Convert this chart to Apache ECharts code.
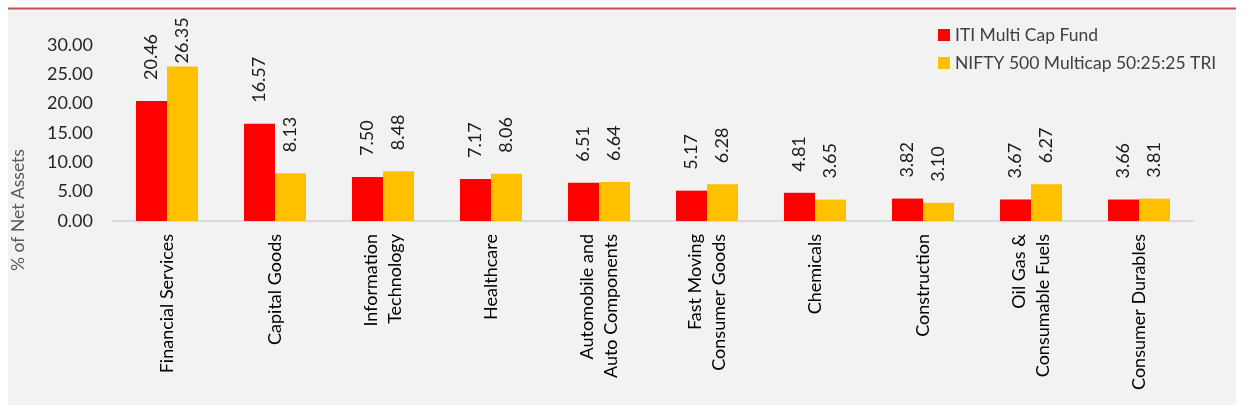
<!DOCTYPE html>
<html>
<head>
<meta charset="utf-8">
<script src="https://cdn.jsdelivr.net/npm/echarts@6/dist/echarts.min.js"></script>
<style>
html,body{margin:0;padding:0;background:#fff;}
#chart{width:1245px;height:413px;}
</style>
</head>
<body>
<div id="chart"></div>
<script>
const categories = ['Financial Services','Capital Goods','Information\nTechnology','Healthcare','Automobile and\nAuto Components','Fast Moving\nConsumer Goods','Chemicals','Construction','Oil Gas &\nConsumable Fuels','Consumer Durables'];
const seriesNames = ['ITI Multi Cap Fund','NIFTY 500 Multicap 50:25:25 TRI'];
const fundValues = [20.46,16.57,7.50,7.17,6.51,5.17,4.81,3.82,3.67,3.66];
const indexValues = [26.35,8.13,8.48,8.06,6.64,6.28,3.65,3.10,6.27,3.81];
const yTicks = {min:0, max:30, interval:5};
const yAxisTitle = '% of Net Assets';

const FONT = 'Lato, "Open Sans", sans-serif';
const chart = echarts.init(document.getElementById('chart'));
const labelCfg = {
  show:true, position:'top', distance:21, rotate:90, align:'left', verticalAlign:'middle',
  fontFamily:FONT, fontSize:18, color:'#1a1a1a',
  formatter: p => Number(p.value).toFixed(2)
};
const yMaxVal = yTicks.max;
function buildData(arr){
  return arr.map(v => {
    if (v > yMaxVal * 0.8) return {value:v, label:{distance:3}};
    return v;
  });
}
chart.setOption({
  backgroundColor:'#ffffff',
  animation:false,
  graphic:[
    {type:'rect', z:-10, silent:true, shape:{x:8,y:8,width:1228,height:397}, style:{fill:'#f2f2f2'}},
    {type:'line', z:-9, silent:true, shape:{x1:8,y1:8.5,x2:1236,y2:8.5}, style:{stroke:'#c0504d',lineWidth:2}},
    {type:'text', silent:true, x:18, y:210, rotation:Math.PI/2,
      style:{text:yAxisTitle, fontFamily:FONT, fontSize:17.5, fill:'#595959', align:'center', verticalAlign:'middle'}}
  ],
  legend:{
    orient:'vertical', left:933, top:20, icon:'rect', itemWidth:12, itemHeight:12, itemGap:8,
    textStyle:{fontFamily:FONT, fontSize:17.5, color:'#404040', lineHeight:20},
    data:seriesNames
  },
  grid:{left:113, right:52, top:45, bottom:192, containLabel:false},
  xAxis:{
    type:'category', data:categories,
    axisLine:{show:true, lineStyle:{color:'#d9d9d9', width:2}},
    axisTick:{show:false},
    axisLabel:{interval:0, rotate:90, margin:13, fontFamily:FONT, fontSize:18, color:'#000', lineHeight:24}
  },
  yAxis:{
    type:'value', min:yTicks.min, max:yTicks.max, interval:yTicks.interval,
    splitLine:{show:false}, axisLine:{show:false}, axisTick:{show:false},
    axisLabel:{margin:20, fontFamily:FONT, fontSize:18, color:'#262626', formatter:v => v.toFixed(2)}
  },
  series:[
    {name:seriesNames[0], type:'bar', data:buildData(fundValues), barWidth:'28.7%', barGap:'0%', itemStyle:{color:'#ff0000'}, label:labelCfg},
    {name:seriesNames[1], type:'bar', data:buildData(indexValues), barWidth:'28.7%', barGap:'0%', itemStyle:{color:'#ffc000'}, label:labelCfg}
  ]
});
</script>
</body>
</html>
